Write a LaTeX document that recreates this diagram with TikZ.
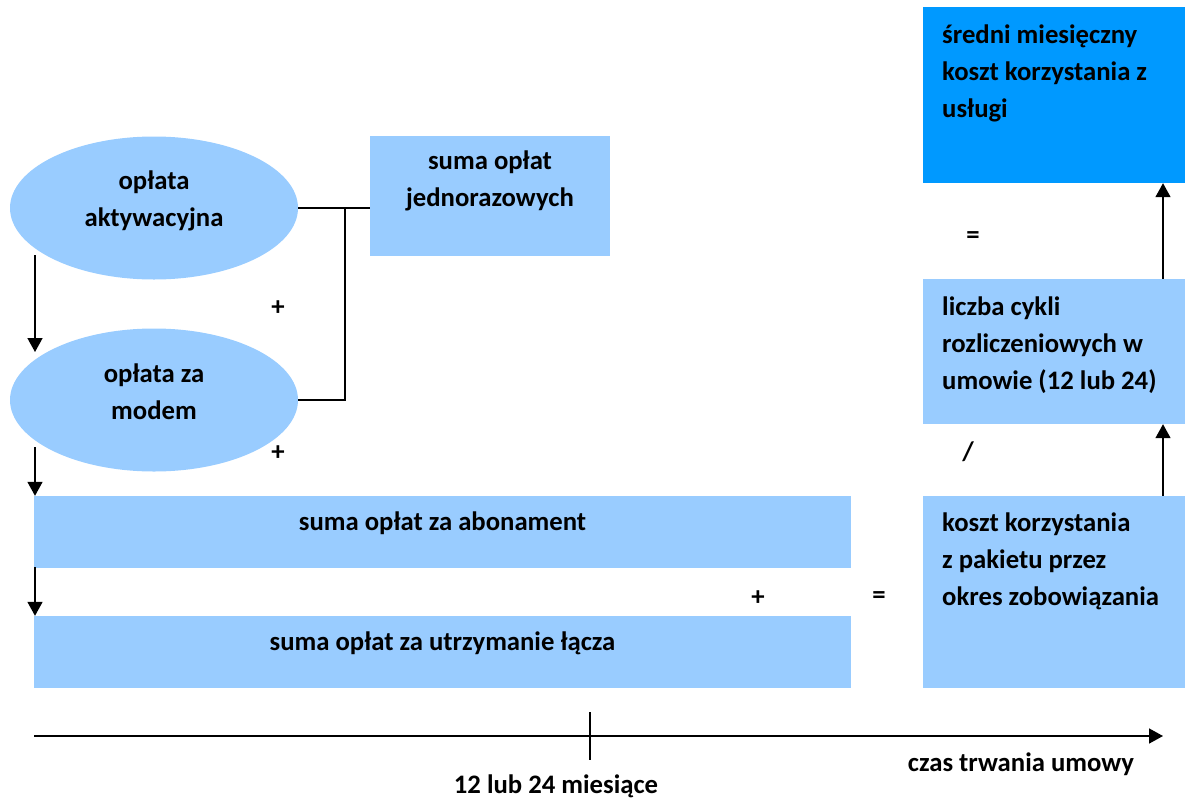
\documentclass[tikz,border=0pt]{standalone}
\usepackage{fontspec}
\setmainfont{Carlito}
\usepackage{tikz}
\usetikzlibrary{shapes,arrows.meta,positioning}
\definecolor{paleblue}{RGB}{153,204,255}
\definecolor{deepblue}{RGB}{0,153,255}

\begin{document}
\begin{tikzpicture}[x=1pt,y=-1pt]
		\tikzstyle{fee}=[ellipse, fill=paleblue, minimum width=288pt, minimum height=143pt, inner sep=0]
		\tikzstyle{sumbox}=[rectangle, fill=paleblue, inner sep=0]
		\tikzstyle{txt}=[font=\fontsize{26.7}{37}\selectfont\bfseries, inner sep=0, align=center]
		\tikzstyle{ltxt}=[txt, align=left, anchor=west]
		\tikzstyle{ln}=[line width=1.6pt]
		\tikzstyle{arr}=[ln, -{Triangle[width=15pt,length=14pt]}]

		\useasboundingbox (0,0) rectangle (1185,798);

		% one-off fees
		\node[fee] (activ) at (154,208) {};
		\node[fee] (modem) at (154,400) {};
		\node[txt] (activtxt) at (154,201) {opłata\\aktywacyjna};
		\node[txt] (modemtxt) at (154,392) {opłata za\\modem};
		\node[sumbox, minimum width=240pt, minimum height=120pt] (oneoff) at (490,196) {};
		\node[txt] (oneofftxt) at (490,181) {suma opłat\\jednorazowych};

		% monthly fees
		\node[sumbox, minimum width=817pt, minimum height=72pt] (subscr) at (442.5,532) {};
		\node[sumbox, minimum width=817pt, minimum height=72pt] (line) at (442.5,652) {};
		\node[txt] (subscrtxt) at (442.5,523) {suma opłat za abonament};
		\node[txt] (linetxt) at (442.5,643) {suma opłat za utrzymanie łącza};

		% result column
		\node[sumbox, minimum width=262pt, minimum height=192pt] (total) at (1054,592) {};
		\node[sumbox, minimum width=262pt, minimum height=145pt] (cycles) at (1054,351.5) {};
		\node[sumbox, fill=deepblue, minimum width=262pt, minimum height=176pt] (avg) at (1054,95) {};
		\node[ltxt] (totaltxt) at (942,561) {koszt korzystania\\z pakietu przez\\okres zobowiązania};
		\node[ltxt] (cyclestxt) at (942,345) {liczba cykli\\rozliczeniowych w\\umowie (12 lub 24)};
		\node[ltxt] (avgtxt) at (942,73) {średni miesięczny\\koszt korzystania z\\usługi};

		% operators
		\node[txt] (plus1) at (278,308) {+};
		\node[txt] (plus2) at (278,453) {+};
		\node[txt] (plus3) at (758,598) {+};
		\node[txt] (eq1) at (879,598) {=};
		\node[txt] (eq2) at (973,238) {=};
		\node[txt] (div) at (968,452) {/};

		% connectors
		\coordinate (join) at (345,208);
		\draw[ln] (activ.east) -- (activ.east -| oneoff.west);
		\draw[ln] (modem.east) -| (join);
		\coordinate (a1) at (35,255);
		\coordinate (a2) at (35,447);
		\coordinate (a3) at (35,567);
		\draw[arr] (a1) -- (35,352);
		\draw[arr] (a2) -- (a2 |- subscr.north);
		\draw[arr] (a3) -- (a3 |- line.north);
		\coordinate (r1) at (1163,0);
		\draw[arr] (r1 |- total.north) -- (r1 |- cycles.south);
		\draw[arr] (r1 |- cycles.north) -- (r1 |- avg.south);

		% time axis
		\coordinate (t0) at (34,736);
		\coordinate (t1) at (1163,736);
		\coordinate (tickup) at (590,712);
		\coordinate (tickdn) at (590,760);
		\draw[arr] (t0) -- (t1);
		\draw[ln] (tickup) -- (tickdn);
		\node[txt] (months) at (556,786) {12 lub 24 miesiące};
		\node[txt] (duration) at (1021,764) {czas trwania umowy};
\end{tikzpicture}
\end{document}
